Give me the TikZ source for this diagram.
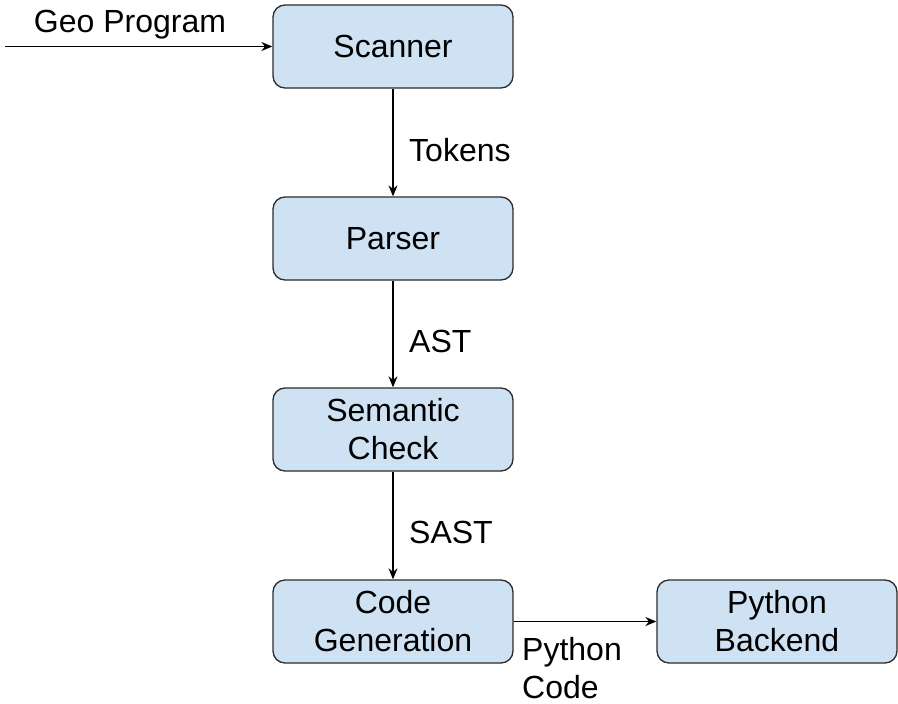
\documentclass[tikz,border=0pt]{standalone}
\usepackage{fontspec}
\setmainfont{Liberation Sans}
\usetikzlibrary{arrows.meta}
\definecolor{boxfill}{HTML}{CFE2F3}
\definecolor{boxline}{HTML}{2B2B2B}
\begin{document}
\begin{tikzpicture}[x=1pt,y=-1pt,
  stage/.style={draw=boxline, fill=boxfill, rounded corners=12pt, minimum width=240pt, minimum height=83pt, line width=1.3pt, align=center, inner sep=0pt, font=\fontsize{32}{38}\selectfont},
  lbl/.style={inner sep=0pt, align=left, font=\fontsize{32}{38}\selectfont},
  arr/.style={-{Stealth[length=11pt,width=9pt]}, line width=1.2pt, draw=black}]
\useasboundingbox (0,0) rectangle (898,704);
\node[stage] (scan) at (393,46.5) {Scanner};
\node[stage] (pars) at (393,238.5) {Parser};
\node[stage] (sem) at (393,429.5) {Semantic\\Check};
\node[stage] (gen) at (393,621.5) {Code\\Generation};
\node[stage] (back) at (777,621.5) {Python\\Backend};
\coordinate (in) at (5,46.5);
\draw[arr] (in) -- (scan.west);
\draw[arr] (scan) -- (pars);
\draw[arr] (pars) -- (sem);
\draw[arr] (sem) -- (gen);
\draw[arr] (gen) -- (back);
\node[lbl] (geo) at (130,25) {Geo Program};
\node[lbl, anchor=west] (tok) at (409,150) {Tokens};
\node[lbl, anchor=west] (ast) at (409,341) {AST};
\node[lbl, anchor=west] (sast) at (409,532) {SAST};
\node[lbl, anchor=west] (pyc) at (522,668) {Python\\Code};
\end{tikzpicture}
\end{document}
